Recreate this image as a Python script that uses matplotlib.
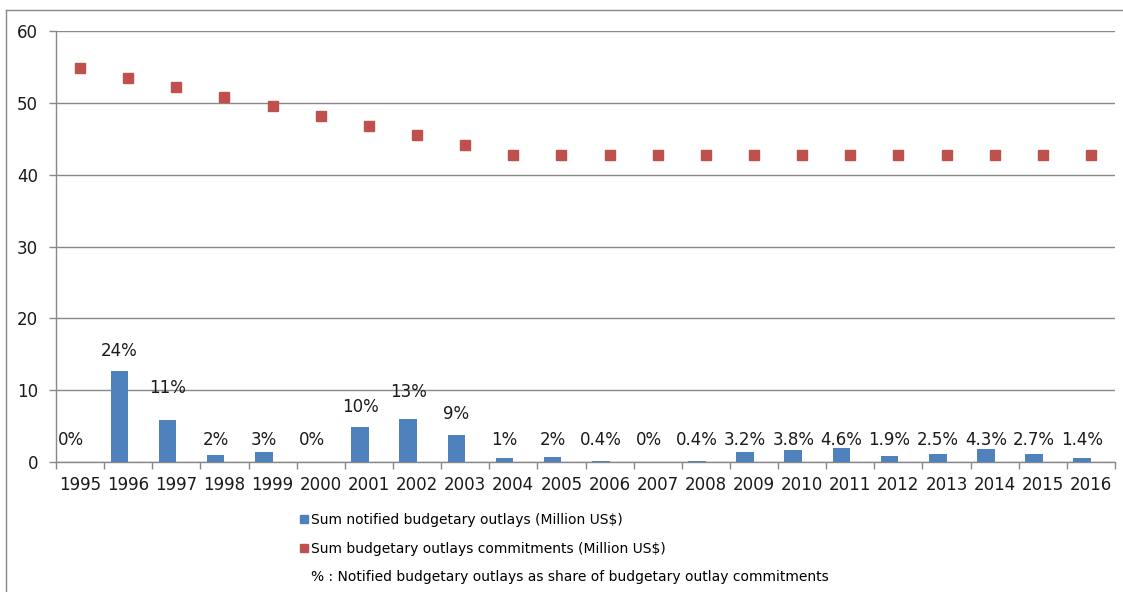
import matplotlib
matplotlib.use("Agg")
from matplotlib import pyplot as plt
from matplotlib.lines import Line2D
import numpy as np

years = [str(y) for y in range(1995, 2017)]

# notified budgetary outlays (Million US$)
notified = [0.0, 12.7, 5.9, 1.0, 1.4, 0.0, 4.9, 6.0, 3.8, 0.6, 0.7,
            0.17, 0.0, 0.17, 1.37, 1.62, 1.96, 0.81, 1.07, 1.84, 1.15, 0.6]

# budgetary outlay commitments (Million US$)
commitments = [54.9, 53.5, 52.2, 50.8, 49.5, 48.1, 46.8, 45.5, 44.1, 42.7, 42.7,
               42.7, 42.7, 42.7, 42.7, 42.7, 42.7, 42.7, 42.7, 42.7, 42.7, 42.7]

share_labels = ["0%", "24%", "11%", "2%", "3%", "0%", "10%", "13%", "9%", "1%", "2%",
                "0.4%", "0%", "0.4%", "3.2%", "3.8%", "4.6%", "1.9%", "2.5%", "4.3%", "2.7%", "1.4%"]

# height (data units) where each share label sits in the picture
label_height = [3.1, 15.5, 10.3, 3.1, 3.1, 3.1, 7.7, 9.8, 6.7, 3.1, 3.1,
                3.1, 3.1, 3.1, 3.1, 3.1, 3.1, 3.1, 3.1, 3.1, 3.1, 3.1]

blue = "#4F81BD"
red = "#C0504D"
grey = "#888888"
txt = "#1a1a1a"

fig = plt.figure(figsize=(11.23, 5.92), dpi=100)
ax = fig.add_axes([56 / 1123, 130 / 592, (1115 - 56) / 1123, (462 - 31) / 592])

x = np.arange(len(years))
bar_w = 0.366
ax.bar(x - bar_w / 2, notified, width=bar_w, color=blue, zorder=3)
ax.plot(x, commitments, linestyle="none", marker="s", markersize=7.5,
        color=red, markeredgecolor=red, zorder=4)

for i in range(len(years)):
    ax.text(x[i] - bar_w / 2, label_height[i], share_labels[i], ha="center", va="center",
            fontsize=12, color=txt, zorder=5)

ax.set_xlim(-0.5, len(years) - 0.5)
ax.set_ylim(0, 60)
ax.set_yticks(range(0, 61, 10))
ax.yaxis.grid(True, color=grey, linewidth=1.0)
ax.set_axisbelow(True)

ax.set_xticks(x)
ax.set_xticklabels(years)
ax.set_xticks(np.arange(-0.5, len(years)), minor=True)
ax.tick_params(axis="x", which="major", length=0, pad=10, labelsize=12, labelcolor=txt)
ax.tick_params(axis="x", which="minor", length=5, color=grey, width=1.0)
ax.tick_params(axis="y", length=5, color=grey, width=1.0, pad=8, labelsize=12, labelcolor=txt)

for s in ["top", "right"]:
    ax.spines[s].set_visible(False)
for s in ["left", "bottom"]:
    ax.spines[s].set_color(grey)
    ax.spines[s].set_linewidth(1.0)

# outer chart frame (left and top edges visible)
fig.add_artist(Line2D([6 / 1123, 6 / 1123], [0, 1 - 10 / 592], color=grey, linewidth=1.0,
                      transform=fig.transFigure))
fig.add_artist(Line2D([6 / 1123, 1], [1 - 10 / 592, 1 - 10 / 592], color=grey, linewidth=1.0,
                      transform=fig.transFigure))

handles = [
    Line2D([], [], linestyle="none", marker="s", markersize=5.5, color=blue),
    Line2D([], [], linestyle="none", marker="s", markersize=5.5, color=red),
    Line2D([], [], linestyle="none", marker=None),
]
labels = ["Sum notified budgetary outlays (Million US$)",
          "Sum budgetary outlays commitments (Million US$)",
          "% : Notified budgetary outlays as share of budgetary outlay commitments"]
fig.legend(handles, labels, loc="upper left", bbox_to_anchor=(300 / 1123, 1 - 513 / 592),
           frameon=False, fontsize=10, handlelength=0.55, handletextpad=0.25,
           labelspacing=1.05, borderpad=0, borderaxespad=0)

fig.savefig("out.png", dpi=100)
